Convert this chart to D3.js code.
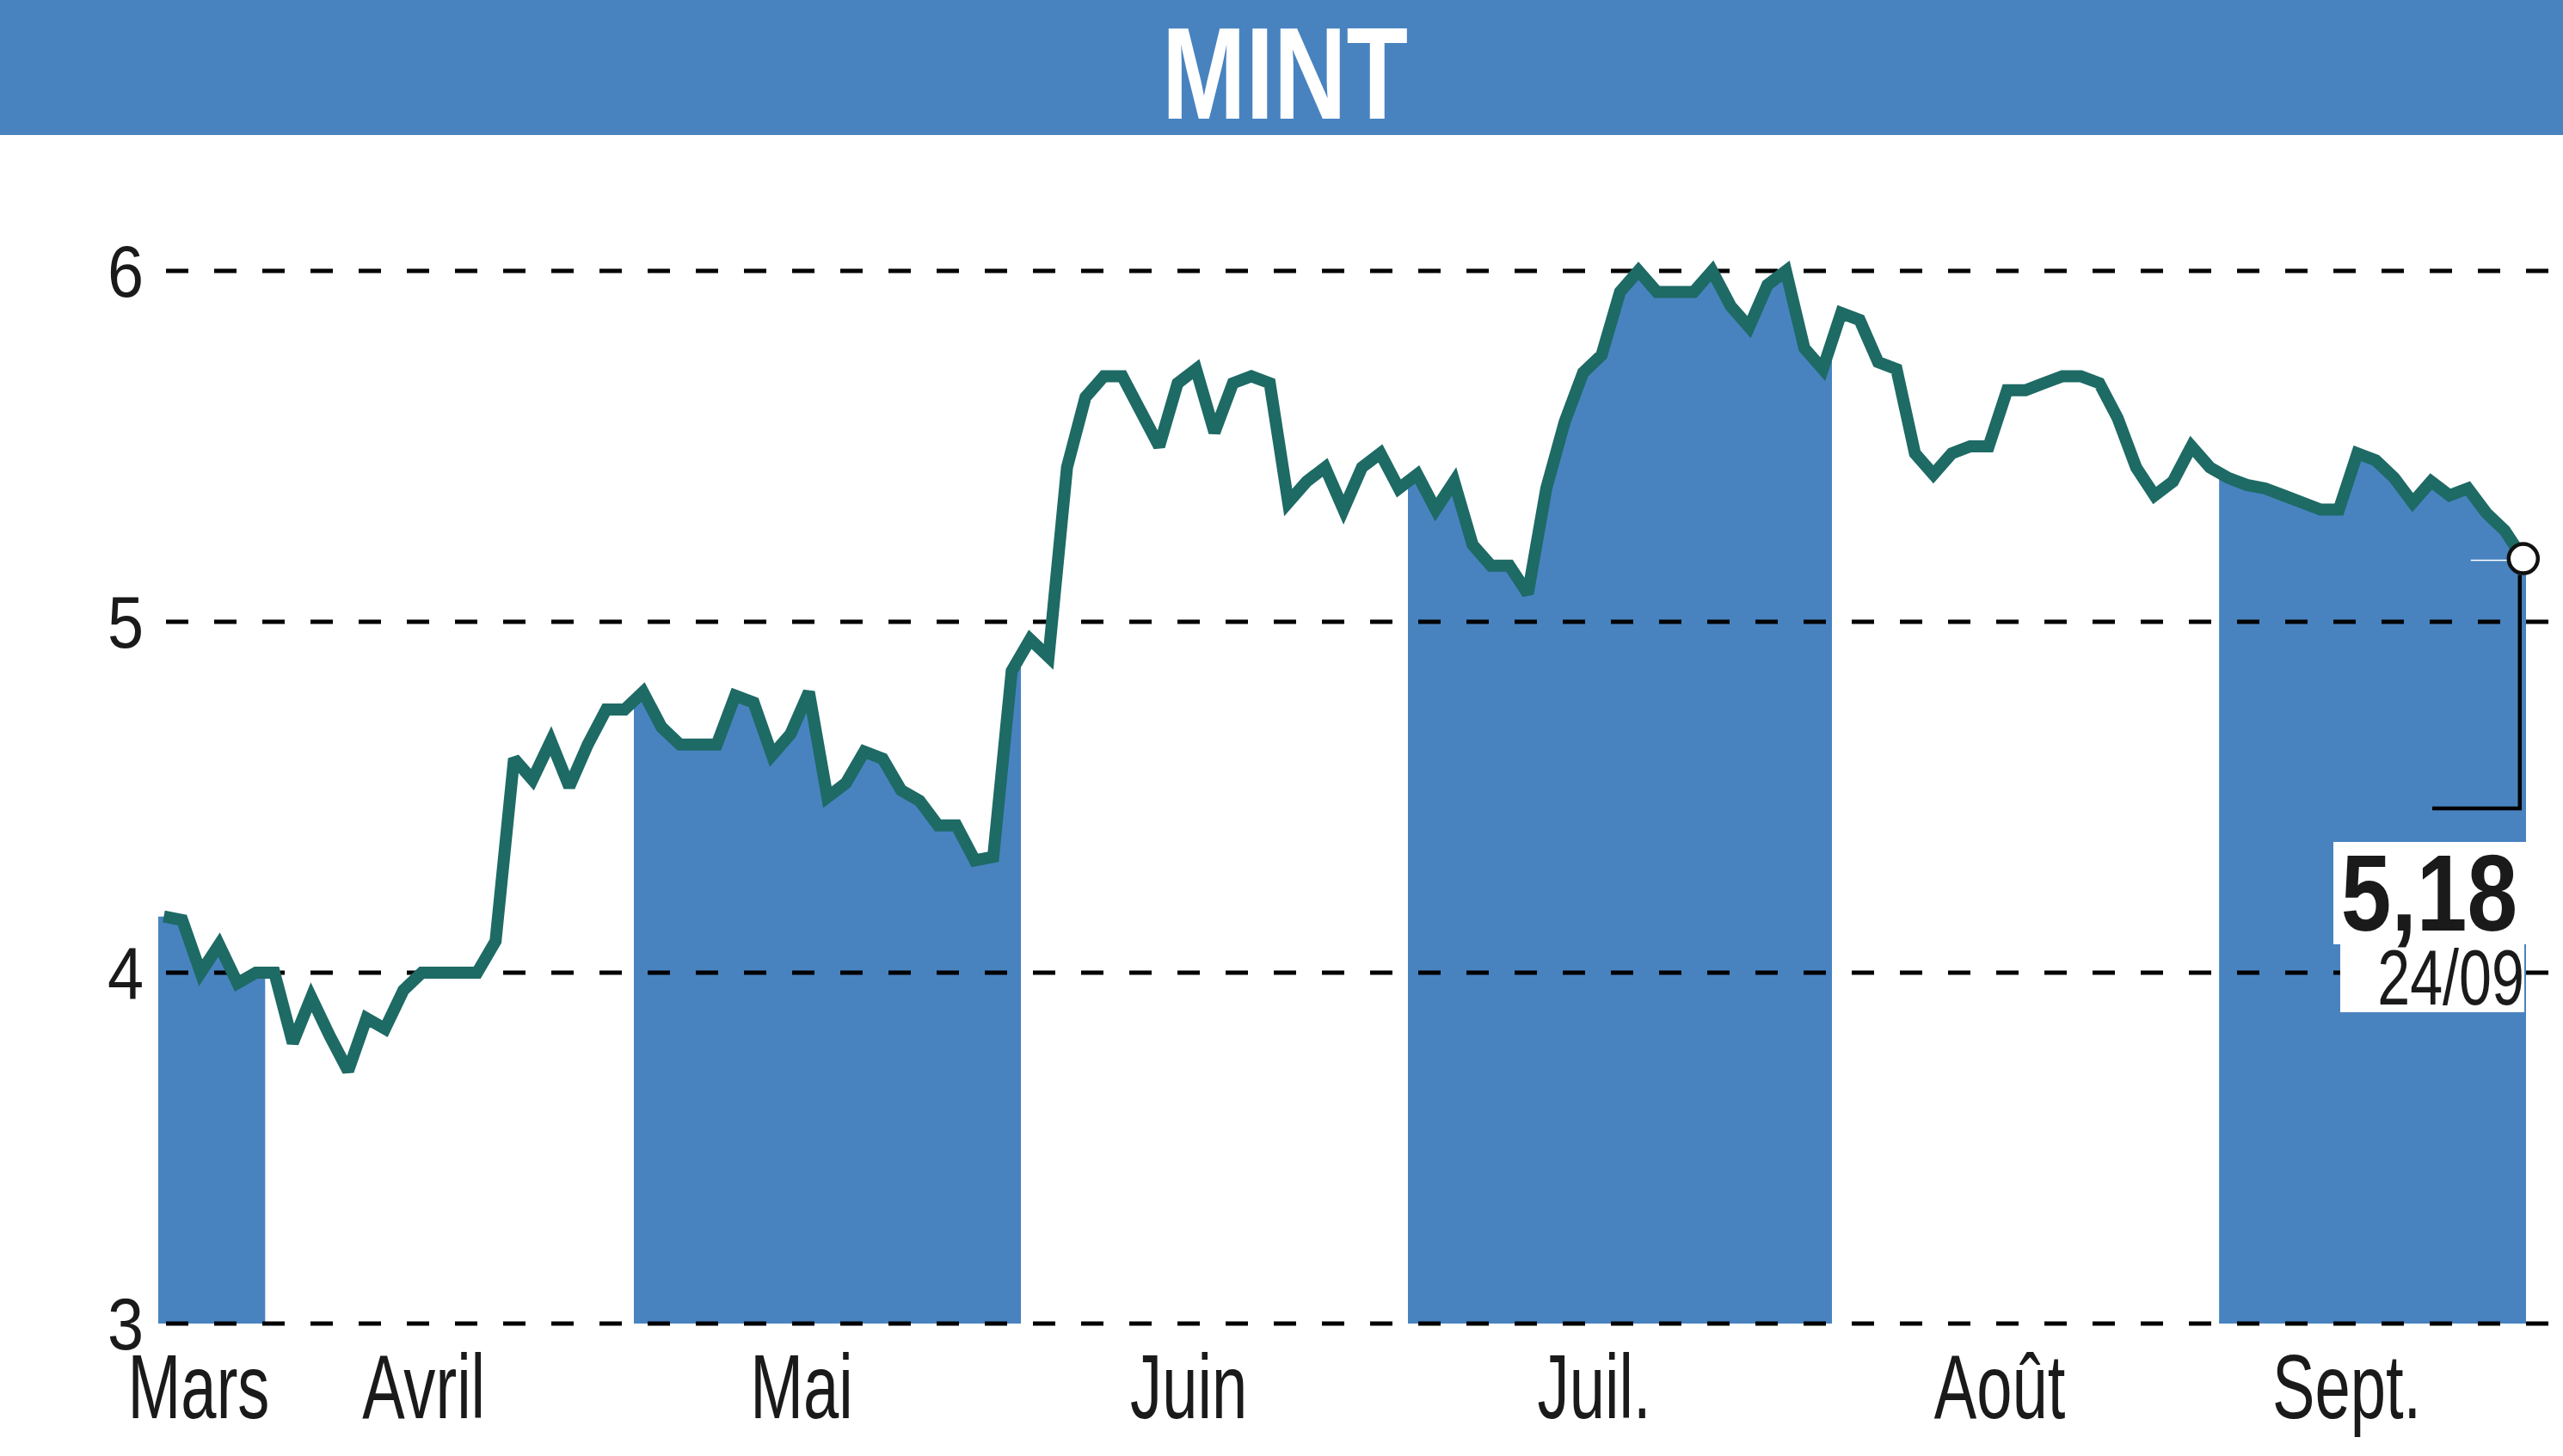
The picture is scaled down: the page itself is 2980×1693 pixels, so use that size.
<!DOCTYPE html>
<html><head><meta charset="utf-8">
<script src="https://cdn.jsdelivr.net/npm/d3@7"></script>
<style>body{margin:0;background:#fff}svg{display:block}</style>
</head><body>
<script>
const title = "MINT";
const prices = [
 4.16,4.15,4.00,4.08,3.97,4.00,
 4.00,3.80,3.93,3.82,3.72,3.87,3.84,3.95,4.00,4.00,4.00,4.00,4.09,4.61,4.55,4.66,4.53,4.65,4.75,4.75,
 4.80,4.70,4.65,4.65,4.65,4.79,4.77,4.62,4.68,4.80,4.50,4.54,4.63,4.61,4.52,4.49,4.42,4.42,4.32,4.33,4.86,
 4.95,4.90,5.44,5.64,5.70,5.70,5.60,5.50,5.68,5.72,5.54,5.68,5.70,5.68,5.34,5.40,5.44,5.32,5.44,5.48,5.38,
 5.42,5.32,5.40,5.22,5.16,5.16,5.08,5.38,5.57,5.71,5.76,5.94,6.00,5.94,5.94,5.94,6.00,5.90,5.84,5.96,6.00,5.78,5.72,
 5.88,5.86,5.74,5.72,5.48,5.42,5.48,5.50,5.50,5.66,5.66,5.68,5.70,5.70,5.68,5.58,5.44,5.36,5.40,5.50,5.44,
 5.41,5.39,5.38,5.36,5.34,5.32,5.32,5.48,5.46,5.41,5.34,5.40,5.36,5.38,5.31,5.26,5.18
];
const monthLabels = ["Mars","Avril","Mai","Juin","Juil.","Août","Sept."];
const monthStarts = [0,6,26,47,68,91,112];
const yTicks = [3,4,5,6];
const yTickLabels = ["3","4","5","6"];
const lastValueLabel = "5,18";
const lastDateLabel = "24/09";

const W = 2980, H = 1693;
const BLUE = "#4883c0", LINE = "#1e6a65", INK = "#1a1a1a";
const FONT = "'Liberation Sans', Arial, sans-serif";

const svg = d3.select("body").append("svg").attr("width", W).attr("height", H);
svg.append("rect").attr("width", W).attr("height", H).attr("fill", "#fff");

const n = prices.length;
const x = d3.scaleLinear().domain([-0.3, n - 1 + 0.15]).range([184, 2937]);
const y = d3.scaleLinear().domain([3, 6]).range([1539, 315]);
const [d0, d1] = x.domain();

// title bar
svg.append("rect").attr("x", 0).attr("y", 0).attr("width", W).attr("height", 157).attr("fill", BLUE);
svg.append("text").attr("transform", "translate(1494,138) scale(0.77,1)")
  .attr("text-anchor", "middle").attr("font-family", FONT).attr("font-weight", "bold")
  .attr("font-size", 152).attr("fill", "#fff").text(title);

// month bands (area under line, clipped to alternate months)
const areaData = [{i: d0, v: prices[0]}].concat(prices.map((v, i) => ({i, v}))).concat([{i: d1, v: prices[n - 1]}]);
const area = d3.area().x(d => x(d.i)).y0(y(3)).y1(d => y(d.v));
const defs = svg.append("defs");
monthStarts.forEach((s, k) => {
  if (k % 2 !== 0) return;
  const a = Math.max(s - 0.5, d0);
  const b = k + 1 < monthStarts.length ? monthStarts[k + 1] - 0.5 : d1;
  defs.append("clipPath").attr("id", "band" + k).append("rect")
    .attr("x", x(a)).attr("y", 0).attr("width", x(b) - x(a)).attr("height", H);
  svg.append("path").datum(areaData).attr("d", area).attr("fill", BLUE)
    .attr("clip-path", "url(#band" + k + ")");
});

// gridlines
yTicks.forEach(t => {
  svg.append("line").attr("x1", 193).attr("x2", W).attr("y1", y(t)).attr("y2", y(t))
    .attr("stroke", "#000").attr("stroke-width", 5).attr("stroke-dasharray", "26,30");
});
// y labels
yTicks.forEach((t, k) => {
  svg.append("text").attr("transform", `translate(167,${y(t) + 30}) scale(0.89,1)`)
    .attr("text-anchor", "end").attr("font-family", FONT).attr("font-size", 85)
    .attr("fill", INK).text(yTickLabels[k]);
});
// month labels
monthStarts.forEach((s, k) => {
  const a = Math.max(s - 0.5, d0);
  const b = k + 1 < monthStarts.length ? monthStarts[k + 1] - 0.5 : d1;
  const cx = Math.max((x(a) + x(b)) / 2 - 30, x.range()[0] + 47);
  svg.append("text").attr("transform", `translate(${cx},1649) scale(0.70,1)`)
    .attr("text-anchor", "middle").attr("font-family", FONT).attr("font-size", 106)
    .attr("fill", INK).text(monthLabels[k]);
});

// price line
const line = d3.line().x((d, i) => x(i)).y(d => y(d));
svg.append("path").datum(prices).attr("d", line).attr("fill", "none")
  .attr("stroke", LINE).attr("stroke-width", 14)
  .attr("stroke-linejoin", "miter").attr("stroke-miterlimit", 2.5);

// last value annotation
const cx = x(n - 1), cy = y(prices[n - 1]);
svg.append("line").attr("x1", cx - 61).attr("x2", cx - 19).attr("y1", cy + 2).attr("y2", cy + 2)
  .attr("stroke", "#fff").attr("stroke-width", 1.5);
svg.append("path").attr("d", `M${cx - 4},${cy + 19} V940 H2828`)
  .attr("fill", "none").attr("stroke", "#000").attr("stroke-width", 4.5);
svg.append("circle").attr("cx", cx).attr("cy", cy).attr("r", 17)
  .attr("fill", "#fff").attr("stroke", "#111").attr("stroke-width", 4.5);
svg.append("rect").attr("x", 2713).attr("y", 979).attr("width", 224).attr("height", 119).attr("fill", "#fff");
svg.append("rect").attr("x", 2721).attr("y", 1098).attr("width", 214).attr("height", 79).attr("fill", "#fff");
svg.append("text").attr("transform", "translate(2927,1082) scale(0.83,1)")
  .attr("text-anchor", "end").attr("font-family", FONT).attr("font-weight", "bold")
  .attr("font-size", 127).attr("fill", INK).text(lastValueLabel);
svg.append("text").attr("transform", "translate(2935,1168) scale(0.75,1)")
  .attr("text-anchor", "end").attr("font-family", FONT)
  .attr("font-size", 91).attr("fill", INK).text(lastDateLabel);
</script>
</body></html>
